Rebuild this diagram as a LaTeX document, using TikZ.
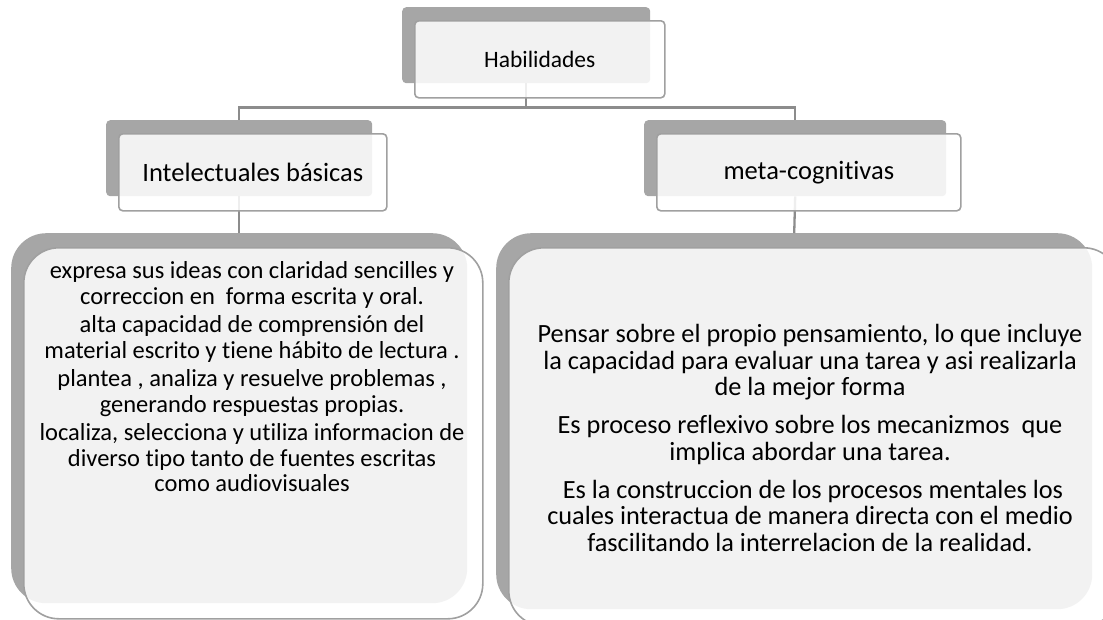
\documentclass[tikz,border=0pt]{standalone}
\usepackage{fontspec}
\setmainfont{Carlito}[RawFeature={-liga}]
\definecolor{backgray}{HTML}{A6A6A6}
\definecolor{rimgray}{HTML}{A0A0A0}
\definecolor{linkgray}{HTML}{8C8C8C}
\tikzset{
  backbox/.style={fill=backgray, inner sep=0pt, anchor=north west},
  frontbox/.style={draw=rimgray, line width=1.6pt, fill=white, fill opacity=0.86,
    text opacity=1, inner sep=0pt, anchor=north west},
  link/.style={draw=linkgray, line width=2.3pt},
  listtext/.style={align=center, inner sep=0pt}
}
\begin{document}
\begin{tikzpicture}[x=1pt, y=-1pt]
  \useasboundingbox (0,0) rectangle (1103,619);
  % gray back plates
  \foreach \n/\x/\y/\w/\h/\r in {
    hab/402/7/248/76/4, int/106/120/266/76/4, meta/644/120/302/76/4,
    intlist/11/233/456/370/35, metalist/496/233/596/376/35} {
    \node[backbox, minimum width=\w pt, minimum height=\h pt, rounded corners=\r pt] (\n-b) at (\x,\y) {};
  }
  % tree lines
  \draw[link] (hab-b.south) -- ++(0,24) -| (int-b.north);
  \draw[link] (hab-b.south) -- ++(0,24) -| (meta-b.north);
  \draw[link] (int-b.south) -- (intlist-b.north);
  \draw[link] (meta-b.south) -- (metalist-b.north);
  % front boxes
  \node[frontbox, minimum width=250pt, minimum height=77pt, rounded corners=4pt,
    font=\fontsize{23.5}{26}\selectfont] (hab) at (414,20) {Habilidades};
  \node[frontbox, minimum width=268pt, minimum height=77pt, rounded corners=4pt,
    font=\fontsize{26.5}{29}\selectfont] (int) at (118,133) {Intelectuales básicas};
  \node[frontbox, minimum width=304pt, minimum height=77pt, rounded corners=4pt,
    font=\fontsize{26.5}{29}\selectfont] (meta) at (656,133) {meta-cognitivas};
  \node[frontbox, minimum width=459pt, minimum height=371pt, rounded corners=35pt] (intlist) at (23,247) {};
  \node[frontbox, minimum width=610pt, minimum height=378pt, rounded corners=35pt] (metalist) at (508,247) {};
  % list texts
  \node[listtext, font=\fontsize{24.5}{25.5}\selectfont] (intlist-t) at (252,377) {
    expresa sus ideas con claridad sencilles y\\ correccion en \ forma escrita y oral.\\[3pt]
    alta capacidad de comprensión del\\ material escrito y tiene hábito de lectura .\\[3pt]
    plantea , analiza y resuelve problemas ,\\ generando respuestas propias.\\[3pt]
    localiza, selecciona y utiliza informacion de\\ diverso tipo tanto de fuentes escritas\\ como audiovisuales};
  \node[listtext, font=\fontsize{26.3}{26.3}\selectfont] (metalist-t) at (810,438) {
    Pensar sobre el propio pensamiento, lo que incluye\\ la capacidad para evaluar una tarea y asi realizarla\\ de la mejor forma\\[12pt]
    Es proceso reflexivo sobre los mecanizmos \ que\\ implica abordar una tarea.\\[12pt]
    \ Es la construccion de los procesos mentales los\\ cuales interactua de manera directa con el medio\\ fascilitando la interrelacion de la realidad.};
\end{tikzpicture}
\end{document}
